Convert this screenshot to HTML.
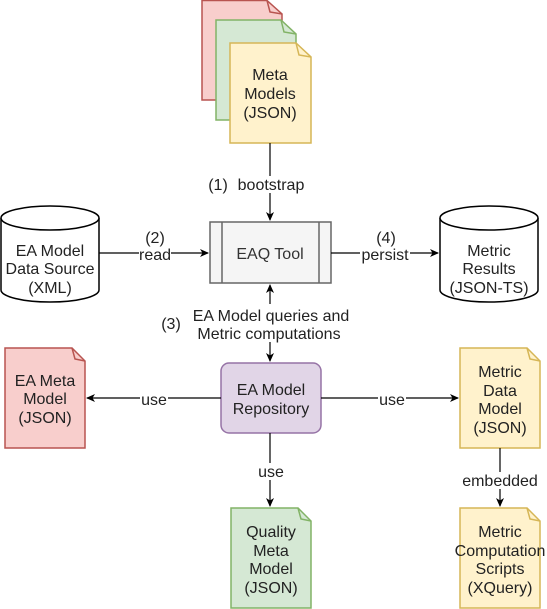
<!DOCTYPE html>
<html><head><meta charset="utf-8"><style>
html,body{margin:0;padding:0;background:#fff;}
svg{display:block;font-family:"Liberation Sans",Arial,sans-serif;}
</style></head><body>
<svg width="547" height="609" viewBox="0 0 547 609" xmlns="http://www.w3.org/2000/svg">
<defs>
<marker id="a" markerWidth="10" markerHeight="10" refX="8" refY="5" orient="auto" markerUnits="userSpaceOnUse">
<path d="M0,1 L9,5 L0,9 L2.5,5 Z" fill="#000"/>
</marker>
</defs>
<g stroke-width="1.5">
<path d="M202,0.5 H267 L282,14 V100 H202 Z" fill="#f8cecc" stroke="#b85450"/>
<path d="M267,0.5 L270,12 L282,14" fill="none" stroke="#b85450"/>
<path d="M216,20 H281 L296,34 V120 H216 Z" fill="#d5e8d4" stroke="#82b366"/>
<path d="M281,20 L284,32 L296,34" fill="none" stroke="#82b366"/>
<path d="M230,43 H296 L311,57 V143 H230 Z" fill="#fff2cc" stroke="#d6b656"/>
<path d="M296,43 L299,55 L311,57" fill="none" stroke="#d6b656"/>
<rect x="210" y="222" width="121" height="61" fill="#f5f5f5" stroke="#666"/>
<line x1="222" y1="222" x2="222" y2="283" stroke="#666"/>
<line x1="319" y1="222" x2="319" y2="283" stroke="#666"/>
<path d="M1,218 V290 A49,12 0 0 0 99,290 V218" fill="#fff" stroke="#000"/>
<ellipse cx="50" cy="218" rx="49" ry="12" fill="#fff" stroke="#000"/>
<path d="M440,218 V290 A49,12 0 0 0 538,290 V218" fill="#fff" stroke="#000"/>
<ellipse cx="489" cy="218" rx="49" ry="12" fill="#fff" stroke="#000"/>
<rect x="221" y="363" width="100" height="70" rx="8" fill="#e1d5e7" stroke="#9673a6"/>
<path d="M5,348 H72 L85,361 V448 H5 Z" fill="#f8cecc" stroke="#b85450"/>
<path d="M72,348 L75,359 L85,361" fill="none" stroke="#b85450"/>
<path d="M460,348 H527 L540,361 V448 H460 Z" fill="#fff2cc" stroke="#d6b656"/>
<path d="M527,348 L530,359 L540,361" fill="none" stroke="#d6b656"/>
<path d="M231,508 H298 L311,521 V608 H231 Z" fill="#d5e8d4" stroke="#82b366"/>
<path d="M298,508 L301,519 L311,521" fill="none" stroke="#82b366"/>
<path d="M460,508 H527 L540,521 V608 H460 Z" fill="#fff2cc" stroke="#d6b656"/>
<path d="M527,508 L530,519 L540,521" fill="none" stroke="#d6b656"/>
</g>
<g stroke="#000" stroke-width="1.2" fill="none">
<line x1="270" y1="143" x2="270" y2="220" marker-end="url(#a)"/>
<line x1="99" y1="253" x2="208" y2="253" marker-end="url(#a)"/>
<line x1="331" y1="253" x2="438" y2="253" marker-end="url(#a)"/>
<line x1="270" y1="305" x2="270" y2="285" marker-end="url(#a)"/>
<line x1="270" y1="305" x2="270" y2="361" marker-end="url(#a)"/>
<line x1="221" y1="398" x2="87" y2="398" marker-end="url(#a)"/>
<line x1="321" y1="398" x2="458" y2="398" marker-end="url(#a)"/>
<line x1="270" y1="433" x2="270" y2="506" marker-end="url(#a)"/>
<line x1="500" y1="448" x2="500" y2="506" marker-end="url(#a)"/>
</g>
<g font-size="16" fill="#222" text-anchor="middle">
<rect x="234" y="176" width="72" height="17" fill="#fff"/>
<text x="218" y="190">(1)</text>
<text x="271" y="190">bootstrap</text>
<text x="155" y="243">(2)</text>
<rect x="139" y="247" width="32" height="16" fill="#fff"/>
<text x="155" y="260">read</text>
<text x="386" y="243">(4)</text>
<rect x="360" y="247" width="50" height="16" fill="#fff"/>
<text x="385" y="260">persist</text>
<rect x="192" y="304" width="156" height="38" fill="#fff"/>
<text x="271" y="321">EA Model queries and</text>
<text x="269" y="339">Metric computations</text>
<text x="171" y="329">(3)</text>
<rect x="140" y="391" width="28" height="16" fill="#fff"/>
<text x="154" y="405">use</text>
<rect x="378" y="391" width="28" height="16" fill="#fff"/>
<text x="392" y="405">use</text>
<rect x="256" y="463" width="30" height="17" fill="#fff"/>
<text x="271" y="477">use</text>
<rect x="462" y="472" width="76" height="17" fill="#fff"/>
<text x="500" y="486">embedded</text>
<text x="270" y="80">Meta</text>
<text x="270" y="99">Models</text>
<text x="270" y="118">(JSON)</text>
<text x="270" y="259" fill="#333">EAQ Tool</text>
<text x="50" y="256">EA Model</text>
<text x="50" y="274">Data Source</text>
<text x="50" y="293">(XML)</text>
<text x="489" y="256">Metric</text>
<text x="489" y="274">Results</text>
<text x="489" y="293">(JSON-TS)</text>
<text x="271" y="395">EA Model</text>
<text x="271" y="414">Repository</text>
<text x="45" y="386">EA Meta</text>
<text x="45" y="404">Model</text>
<text x="45" y="423">(JSON)</text>
<text x="500" y="377">Metric</text>
<text x="500" y="396">Data</text>
<text x="500" y="414">Model</text>
<text x="500" y="433">(JSON)</text>
<text x="271" y="537">Quality</text>
<text x="271" y="556">Meta</text>
<text x="271" y="574">Model</text>
<text x="271" y="593">(JSON)</text>
<text x="500" y="537">Metric</text>
<text x="500" y="556">Computation</text>
<text x="500" y="574">Scripts</text>
<text x="500" y="593">(XQuery)</text>
</g>
</svg>
</body></html>
